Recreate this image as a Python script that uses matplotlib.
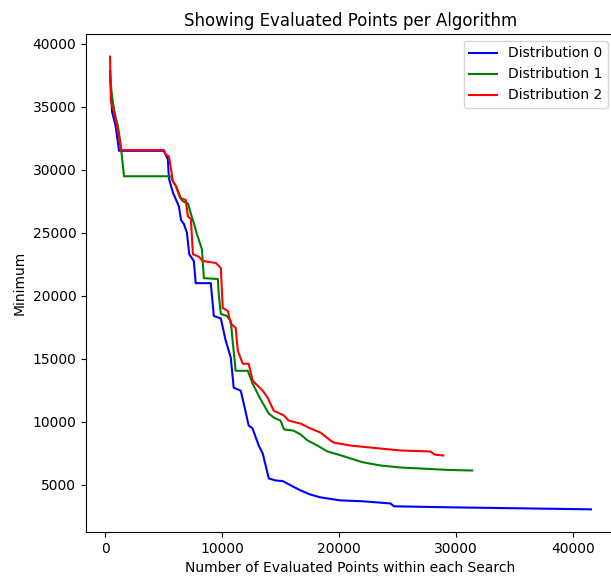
import matplotlib
matplotlib.use("Agg")
import matplotlib.pyplot as plt

# Distribution 0 (blue)
x0 = [430, 600, 900, 1200, 1370, 5030, 5370, 5460, 5800, 6310, 6500, 6740, 7000, 7200,
      7590, 7750, 9040, 9300, 9900, 10300, 10750, 11000, 11600, 11900, 12280, 12600,
      13140, 13480, 14000, 14590, 15200, 16000, 16720, 17500, 18420, 20130, 22000,
      24400, 24700, 29500, 35500, 41540]
y0 = [37800, 34600, 33500, 31500, 31500, 31500, 30830, 29300, 28200, 27100, 26000,
      25700, 25000, 23300, 22760, 21000, 21000, 18400, 18200, 16500, 15080, 12710,
      12470, 11290, 9700, 9500, 8120, 7490, 5510, 5350, 5300, 4900, 4560, 4250, 4010,
      3770, 3700, 3530, 3300, 3220, 3140, 3060]

# Distribution 1 (green)
x1 = [430, 600, 800, 1110, 1300, 1450, 1620, 5630, 5800, 6060, 6400, 6650, 7100, 7340,
      7590, 7850, 8280, 8450, 9640, 9720, 9900, 10400, 10750, 10900, 11170, 12200,
      12620, 13220, 14000, 14500, 15000, 15300, 16120, 16720, 17320, 18100, 19020,
      20130, 20980, 22000, 23530, 25250, 29500, 31390]
y1 = [37400, 35800, 34600, 33400, 32250, 31000, 29480, 29480, 29080, 28700, 27800,
      27500, 27300, 26500, 25770, 24900, 23700, 21400, 21330, 20150, 18560, 18400,
      18000, 16500, 14050, 14050, 13030, 11920, 10650, 10300, 10100, 9400, 9300, 9000,
      8520, 8150, 7650, 7350, 7100, 6800, 6540, 6380, 6180, 6140]

# Distribution 2 (red)
x2 = [430, 500, 750, 950, 1200, 1370, 5030, 5200, 5460, 5650, 5800, 6060, 6480, 6900,
      7080, 7340, 7510, 8020, 8360, 9470, 9900, 10060, 10500, 10750, 11170, 11350,
      11770, 12280, 12620, 13480, 13900, 14420, 15300, 15700, 16720, 17500, 18420,
      19280, 19530, 20980, 22690, 25250, 27800, 28200, 28920]
y2 = [38970, 35400, 34600, 33800, 32500, 31560, 31560, 31200, 31060, 30000, 29080,
      28700, 27740, 27600, 26300, 26100, 23300, 23100, 22760, 22600, 22200, 19040,
      18800, 17780, 17460, 15640, 14610, 14610, 13260, 12470, 11920, 10890, 10500,
      10100, 9860, 9500, 9150, 8520, 8360, 8120, 7960, 7730, 7650, 7400, 7330]

fig = plt.figure(figsize=(6.11, 5.8), dpi=100)
ax = fig.add_axes([0.1408, 0.0828, 0.8657, 0.8586])

ax.plot(x0, y0, color="blue", label="Distribution 0")
ax.plot(x1, y1, color="green", label="Distribution 1")
ax.plot(x2, y2, color="red", label="Distribution 2")

ax.set_title("Showing Evaluated Points per Algorithm")
ax.set_xlabel("Number of Evaluated Points within each Search")
ax.set_ylabel("Minimum")
ax.set_xticks([0, 10000, 20000, 30000, 40000])
ax.legend(loc="upper right")

fig.savefig("out.png", dpi=100)
